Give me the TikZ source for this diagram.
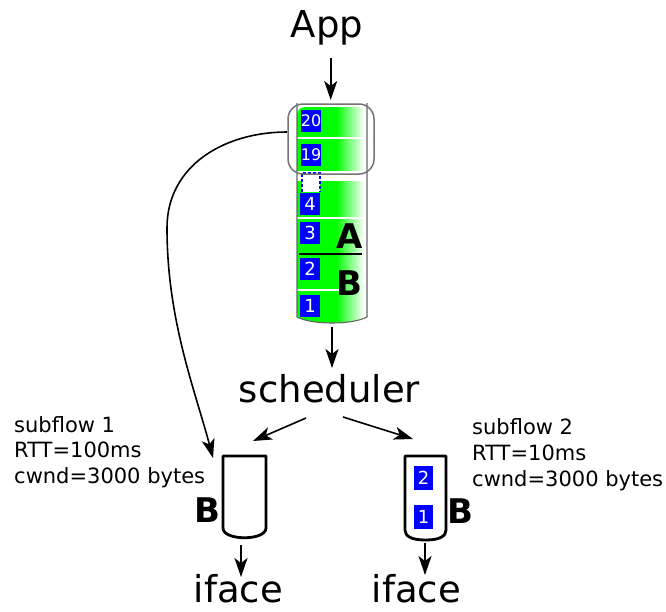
\documentclass[tikz,border=0pt]{standalone}
\usepackage{fontspec}
\setmainfont{DejaVu Sans}
\usetikzlibrary{arrows.meta}
\begin{document}
\begin{tikzpicture}[x=1pt,y=-1pt,
  arr/.style={line width=1.6pt,-{Stealth[length=19pt,width=13pt,inset=5pt]}},
  pkt/.style={fill=blue, text=white, inner sep=0pt, minimum width=20pt, minimum height=22pt, font=\fontsize{18}{18}\selectfont},
  pktsmall/.style={pkt, font=\fontsize{16}{16}\selectfont},
  big/.style={font=\fontsize{37}{40}\selectfont, inner sep=0pt, anchor=base},
  lbl/.style={font=\fontsize{21}{25}\selectfont, inner sep=0pt, anchor=base west},
  boldlbl/.style={font=\fontsize{34}{34}\selectfont\bfseries, inner sep=0pt, anchor=base west},
  buf/.style={line width=2.8pt, line join=round},
  tubeline/.style={draw=black!60, line width=1.1pt}]
\useasboundingbox (0,0) rectangle (666,611);

% texts
\node[big] (app) at (327,37) {App};
\node[big] (sched) at (329.5,402) {scheduler};
\node[big] (if1) at (238.5,602) {iface};
\node[big] (if2) at (416.5,602) {iface};
\node[lbl] (s1a) at (14,432) {subflow 1};
\node[lbl] (s1b) at (14,457) {RTT=100ms};
\node[lbl] (s1c) at (14,483) {cwnd=3000 bytes};
\node[lbl] (s2a) at (472,434) {subflow 2};
\node[lbl] (s2b) at (472,460) {RTT=10ms};
\node[lbl] (s2c) at (472,486) {cwnd=3000 bytes};

% tube (send queue)
\begin{scope}
  \clip (297,317) [rounded corners=8pt] -- (297,107) -- (367,107) [sharp corners] -- (367,317) .. controls (352,325) and (312,325) .. cycle;
  \fill[green] (290,100) rectangle (336,330);
  \shade[left color=green, right color=white] (336,100) rectangle (364,330);
  \fill[white] (364,100) rectangle (370,330);
  \fill[white] (290,171) rectangle (370,181);
  \draw[white, line width=1.6pt] (297,138) -- (367,138);
  \draw[white, line width=1.6pt] (297,218) -- (367,218);
  \draw[white, line width=1.6pt] (297,290) -- (340,290);
\end{scope}
\draw[tubeline] (297,103) -- (297,317) .. controls (312,325) and (352,325) .. (367,317) -- (367,103);

\node[pktsmall] (p20) at (311,121) {20};
\node[pktsmall] (p19) at (311,154.5) {19};
\draw[blue, dash pattern=on 3pt off 2pt, line width=1.2pt, fill=white] (302,192) -- (302,173) -- (320,173) -- (320,192);
\node[pkt] (p4) at (310,204) {4};
\node[pkt] (p3) at (310,232.5) {3};
\node[pkt] (p2) at (310,268.5) {2};
\node[pkt] (p1) at (310,306) {1};
\draw[line width=2.5pt] (299,254) -- (362,254);
\node[boldlbl] (qa) at (336,248) {A};
\node[boldlbl] (qb) at (336,295) {B};

\node[draw=black!55, line width=1.5pt, rounded corners=15pt, minimum width=86pt, minimum height=70pt, inner sep=0pt] (hl) at (331,139) {};
\coordinate (hlout) at (287,132);

% subflow buffers
\draw[buf] (223,456) -- (266,456) -- (266,528) .. controls (266,541) and (223,541) .. (223,528) -- cycle;
\coordinate (b1top) at (213,458);
\coordinate (b1bot) at (241,545);
\node[boldlbl] (lb) at (194,522) {B};

\draw[buf] (405,456) -- (446,456) -- (446,530) .. controls (446,536) and (440,540) .. (425.5,540) .. controls (411,540) and (405,536) .. (405,530) -- cycle;
\node[pkt, minimum width=19pt, minimum height=24pt] (r2) at (423.5,478) {2};
\node[pkt, minimum width=19pt, minimum height=24pt] (r1) at (423.5,516.5) {1};
\node[boldlbl] (rb) at (447,523) {B};
\coordinate (b2bot) at (425,543);

% connectors
\coordinate (appout) at (330.7,58);
\coordinate (qin) at (330.7,100);
\coordinate (qout) at (332,327);
\coordinate (sin) at (332,368);
\coordinate (sl) at (306,418);
\coordinate (slend) at (253,441);
\coordinate (sr) at (343,417);
\coordinate (srend) at (413,439);
\coordinate (if1in) at (241,577);
\coordinate (if2in) at (425,575);

\draw[arr] (appout) -- (qin);
\draw[arr] (qout) -- (sin);
\draw[arr] (sl) -- (slend);
\draw[arr] (sr) -- (srend);
\draw[arr] (b1bot) -- (if1in);
\draw[arr] (b2bot) -- (if2in);
\draw[arr] (hlout) .. controls (225,132) and (167,165) .. (167,228) .. controls (167,320) and (195,390) .. (b1top);
\end{tikzpicture}
\end{document}
